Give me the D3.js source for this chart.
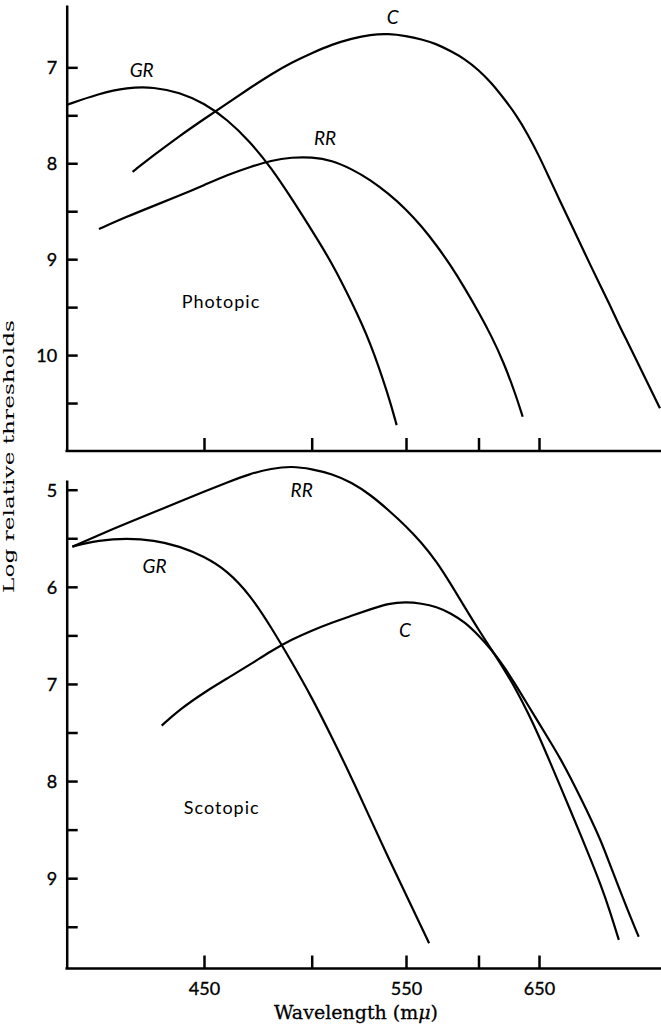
<!DOCTYPE html>
<html><head><meta charset="utf-8">
<script src="https://cdn.jsdelivr.net/npm/d3@7"></script>
<style>body{margin:0;background:#fff} svg{display:block}</style>
</head><body>
<svg id="chart" width="661" height="1027"></svg>
<script>
// ---------- data ----------
const xTickWavelengths = [450, 500, 550, 600, 650];
const xTickLabels = ["450", "", "550", "", "650"];
const photTicks = [7, 7.5, 8, 8.5, 9, 9.5, 10, 10.5];
const scotTicks = [5, 5.5, 6, 6.5, 7, 7.5, 8, 8.5, 9, 9.5];

// Photopic
const photGR_wl = [399, 410, 420, 430, 440, 450, 460, 470, 480, 490, 500, 510, 520, 530, 540, 544.6];
const photGR    = [7.393, 7.274, 7.210, 7.205, 7.261, 7.373, 7.545, 7.773, 8.049, 8.372, 8.697, 9.040, 9.445, 9.864, 10.424, 10.730];

const photC_wl = [422, 430, 440, 450, 460, 470, 480, 490, 500, 510, 520, 530, 540, 550, 560, 570, 580, 590, 600, 610, 620, 630, 640, 650, 660, 670, 680, 690, 700, 710, 720, 730, 740, 750, 760, 770, 780];
const photC    = [8.089, 7.915, 7.715, 7.539, 7.374, 7.216, 7.070, 6.948, 6.852, 6.761, 6.700, 6.658, 6.649, 6.672, 6.708, 6.756, 6.832, 6.914, 7.027, 7.161, 7.324, 7.492, 7.696, 7.922, 8.170, 8.408, 8.635, 8.857, 9.071, 9.277, 9.472, 9.676, 9.859, 10.040, 10.217, 10.389, 10.555];

const photRR_wl = [410, 420, 430, 440, 450, 460, 470, 480, 490, 500, 510, 520, 530, 540, 550, 560, 570, 580, 590, 600, 610, 620, 630, 635.7];
const photRR    = [8.686, 8.556, 8.443, 8.337, 8.229, 8.121, 8.039, 7.970, 7.938, 7.935, 7.970, 8.060, 8.173, 8.317, 8.479, 8.656, 8.855, 9.070, 9.306, 9.550, 9.800, 10.080, 10.420, 10.643];

// Scotopic
const scotRR_wl = [401, 410, 420, 430, 440, 450, 460, 470, 480, 490, 500, 510, 520, 530, 540, 550, 560, 570, 580, 590, 600, 610, 620, 630, 640, 650, 660, 670, 680, 690, 700, 710, 720, 730.3];
const scotRR    = [5.586, 5.466, 5.343, 5.233, 5.123, 5.020, 4.924, 4.836, 4.782, 4.757, 4.787, 4.837, 4.924, 5.052, 5.210, 5.375, 5.545, 5.740, 5.975, 6.213, 6.441, 6.645, 6.845, 7.055, 7.290, 7.538, 7.804, 8.064, 8.317, 8.564, 8.811, 9.057, 9.327, 9.636];

const scotGR_wl = [401, 410, 420, 430, 440, 450, 460, 470, 480, 490, 500, 510, 520, 530, 540, 550, 560, 565];
const scotGR    = [5.586, 5.520, 5.500, 5.520, 5.581, 5.686, 5.834, 6.080, 6.418, 6.777, 7.137, 7.551, 7.966, 8.390, 8.793, 9.171, 9.505, 9.670];

const scotC_wl = [433, 440, 450, 460, 470, 480, 490, 500, 510, 520, 530, 540, 550, 560, 570, 580, 590, 600, 610, 620, 630, 640, 650, 660, 670, 680, 690, 700, 710, 720, 730, 740, 750, 753.5];
const scotC    = [7.429, 7.264, 7.088, 6.942, 6.802, 6.659, 6.540, 6.450, 6.367, 6.298, 6.231, 6.170, 6.156, 6.171, 6.204, 6.273, 6.365, 6.500, 6.647, 6.819, 7.014, 7.213, 7.405, 7.590, 7.774, 7.976, 8.183, 8.389, 8.601, 8.848, 9.090, 9.319, 9.533, 9.603];

// ---------- layout ----------
const svg = d3.select("#chart");
svg.append("rect").attr("width", 661).attr("height", 1027).attr("fill", "#fff");
const xLeft = 66.7, xRight = 661;
const sans = "Lato, 'Open Sans', sans-serif";
const serif = "'DejaVu Serif', 'Liberation Serif', serif";

// x scale: spacing follows reciprocal wavelength (piecewise through tick positions)
const x = d3.scaleLinear()
  .domain(xTickWavelengths.map(w => 1 / w))
  .range([204, 311.7, 406, 478.5, 539]);
const xw = w => x(1 / w);

const panels = [
  {y: d3.scaleLinear().domain([6.35, 11]).range([5, 451]), ticks: photTicks, labels: false,
   series: [[photGR_wl, photGR], [photC_wl, photC], [photRR_wl, photRR]]},
  {y: d3.scaleLinear().domain([4.9, 9.93]).range([480, 968.5]), ticks: scotTicks, labels: true,
   series: [[scotRR_wl, scotRR], [scotGR_wl, scotGR], [scotC_wl, scotC]]}
];

panels.forEach(p => {
  const y = p.y;
  const yBottom = y.range()[1];
  // y axis
  const ga = svg.append("g").attr("transform", `translate(${xLeft},0)`)
    .call(d3.axisLeft(y).tickValues(p.ticks).tickSize(-11).tickSizeOuter(0).tickPadding(9.5)
      .tickFormat(d => Number.isInteger(d) ? d : ""));
  ga.selectAll("path,line").attr("stroke", "#000").attr("stroke-width", 2.5);
  ga.selectAll("text").attr("font-family", sans).attr("font-size", 18).attr("fill", "#000")
    .attr("dy", "0.36em").attr("stroke", "#000").attr("stroke-width", 0.35);
  // x axis
  const gx = svg.append("g").attr("transform", `translate(0,${yBottom})`)
    .call(d3.axisBottom(x).tickValues(xTickWavelengths.map(w => 1 / w)).tickSize(-13).tickSizeOuter(0).tickPadding(14)
      .tickFormat((d, i) => p.labels ? xTickLabels[i] : ""));
  gx.select(".domain").remove();
  gx.selectAll("line").attr("stroke", "#000").attr("stroke-width", 2.5);
  gx.selectAll("text").attr("font-family", sans).attr("font-size", 18).attr("fill", "#000")
    .attr("stroke", "#000").attr("stroke-width", 0.35);
  gx.append("line").attr("x1", xLeft - 1.25).attr("x2", xRight).attr("y1", 0).attr("y2", 0)
    .attr("stroke", "#000").attr("stroke-width", 2.5);
  // curves
  const line = d3.line().x(d => xw(d[0])).y(d => y(d[1])).curve(d3.curveBasis);
  p.series.forEach(([wl, vals]) => {
    svg.append("path").datum(wl.map((w, i) => [w, vals[i]]))
      .attr("d", line).attr("fill", "none").attr("stroke", "#000")
      .attr("stroke-width", 2.2).attr("stroke-linecap", "butt");
  });
});

// curve labels
const curveLabels = [
  {t: "GR", x: 141.7, y: 77.3}, {t: "RR", x: 325, y: 145}, {t: "C", x: 392.8, y: 24},
  {t: "RR", x: 301.7, y: 497}, {t: "GR", x: 154.5, y: 573}, {t: "C", x: 405, y: 637}
];
svg.selectAll("text.cl").data(curveLabels).enter().append("text").attr("class", "cl")
  .attr("x", d => d.x).attr("y", d => d.y).attr("text-anchor", "middle")
  .attr("font-family", sans).attr("font-style", "italic").attr("font-size", 19).text(d => d.t);

svg.append("text").attr("x", 221).attr("y", 308).attr("text-anchor", "middle")
  .attr("font-family", sans).attr("font-size", 18).attr("letter-spacing", 1).text("Photopic");
svg.append("text").attr("x", 221.7).attr("y", 814).attr("text-anchor", "middle")
  .attr("font-family", sans).attr("font-size", 18).attr("letter-spacing", 1).text("Scotopic");

// axis titles
const xt = svg.append("text").attr("x", 356).attr("y", 1019).attr("text-anchor", "middle")
  .attr("font-family", serif).attr("font-size", 19).attr("stroke", "#000").attr("stroke-width", 0.3);
xt.append("tspan").text("Wavelength (m");
xt.append("tspan").attr("font-style", "italic").text("μ");
xt.append("tspan").text(")");

svg.append("text").attr("transform", "translate(13.5,456.5) rotate(-90)").attr("text-anchor", "middle")
  .attr("font-family", serif).attr("font-size", 15)
  .attr("textLength", 273).attr("lengthAdjust", "spacingAndGlyphs").text("Log relative thresholds");
</script>
</body></html>
